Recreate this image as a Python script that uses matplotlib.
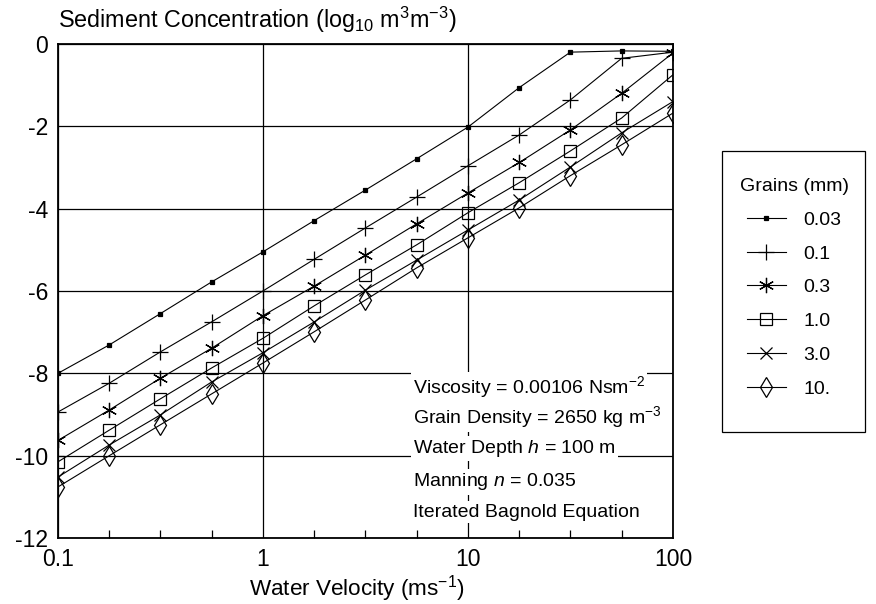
import numpy as np
import matplotlib.pyplot as plt
from matplotlib.patches import Rectangle
from matplotlib.ticker import FixedLocator, NullFormatter

plt.rcParams["font.family"] = ["Liberation Sans", "DejaVu Sans"]
plt.rcParams["mathtext.fontset"] = "custom"
plt.rcParams["mathtext.rm"] = "Liberation Sans"
plt.rcParams["mathtext.it"] = "Liberation Sans:italic"

# -----------------------------
# Data
# -----------------------------

velocity = [0.1, 0.178, 0.316, 0.562, 1.0, 1.78, 3.16, 5.62, 10.0, 17.8, 31.6, 56.2, 100.0]

grain_labels = ["0.03", "0.1", "0.3", "1.0", "3.0", "10."]

conc_003 = [-8.0, -7.31, -6.55, -5.78, -5.05, -4.29, -3.55, -2.79, -2.02, -1.06, -0.2, -0.17, -0.18]
conc_01 = [-8.94, -8.24, -7.48, -6.75, -6.0, -5.23, -4.47, -3.72, -2.96, -2.21, -1.36, -0.35, -0.2]
conc_03 = [-9.63, -8.89, -8.12, -7.39, -6.6, -5.88, -5.13, -4.37, -3.62, -2.88, -2.09, -1.2, -0.22]
conc_1 = [-10.15, -9.38, -8.62, -7.87, -7.15, -6.36, -5.61, -4.88, -4.1, -3.37, -2.6, -1.8, -0.75]
conc_3 = [-10.52, -9.74, -9.01, -8.21, -7.5, -6.75, -5.98, -5.25, -4.52, -3.79, -2.99, -2.16, -1.4]
conc_10 = [-10.76, -10.0, -9.25, -8.5, -7.75, -6.99, -6.22, -5.44, -4.71, -3.98, -3.2, -2.45, -1.68]

series = [conc_003, conc_01, conc_03, conc_1, conc_3, conc_10]

# marker style per grain size
markers = ["s", "+", (6, 2, 0), "s", "x", "d"]
marker_sizes = [3, 12, 11, 8, 9, 10]
filled = [True, False, False, False, False, False]

notes = [
    "Viscosity = 0.00106 Nsm$^{-2}$",
    "Grain Density = 2650 kg m$^{-3}$",
    "Water Depth $h$ = 100 m",
    "Manning $n$ = 0.035",
    "Iterated Bagnold Equation",
]
note_y = [-8.33, -9.06, -9.82, -10.64, -11.37]

# -----------------------------
# Plot
# -----------------------------

fig = plt.figure(figsize=(8.76, 6.04), dpi=100)
ax = fig.add_axes([0.0662, 0.1093, 0.702, 0.818])

for vals, lab, mk, ms, fl in zip(series, grain_labels, markers, marker_sizes, filled):
    ax.plot(velocity, vals, color="black", lw=0.8, marker=mk, markersize=ms,
            markerfacecolor="black" if fl else "none", markeredgecolor="black",
            markeredgewidth=0.9, label=lab, zorder=3)

ax.set_xscale("log")
ax.set_xlim(0.1, 100)
ax.set_ylim(-12, 0)
ax.set_xticks([0.1, 1, 10, 100])
ax.set_xticklabels(["0.1", "1", "10", "100"])
ax.xaxis.set_minor_locator(FixedLocator([10 ** (k / 4) for k in range(-4, 9) if k % 4 != 0]))
ax.xaxis.set_minor_formatter(NullFormatter())
ax.set_yticks([0, -2, -4, -6, -8, -10, -12])
ax.set_yticklabels(["0", "-2", "-4", "-6", "-8", "-10", "-12"])

ax.tick_params(axis="both", which="major", length=0, labelsize=16.5)
ax.tick_params(axis="x", which="major", pad=7)
ax.tick_params(axis="y", which="major", pad=7)
ax.tick_params(axis="x", which="minor", direction="in", length=6, width=0.9)
ax.grid(True, which="major", color="black", lw=0.9)
for sp in ax.spines.values():
    sp.set_linewidth(1.3)

ax.set_xlabel("Water Velocity (ms$^{-1}$)", fontsize=16.2)
ax.xaxis.set_label_coords(0.486, -0.071)
fig.text(0.0662, 0.953, "Sediment Concentration (log$_{10}$ m$^3$m$^{-3}$)", fontsize=16.8,
         ha="left", va="baseline")

for txt, yv in zip(notes, note_y):
    ax.text(5.4, yv, txt, fontsize=14, ha="left", va="center", zorder=4,
            bbox=dict(facecolor="white", edgecolor="none", pad=1.5))

# legend without its own frame; the box is drawn separately (it is taller than the entries)
leg = ax.legend(loc="upper left", bbox_to_anchor=(1.08, 0.764), borderaxespad=0,
                title="Grains (mm)", fontsize=14, title_fontsize=14, frameon=False,
                handlelength=2.0, labelspacing=0.83, borderpad=0.9, handletextpad=0.9)
fig.add_artist(Rectangle((722 / 876, 1 - 432 / 604), 143 / 876, 281 / 604,
                         transform=fig.transFigure, fill=False, edgecolor="black", lw=0.9))

plt.savefig("out.png", dpi=100)
